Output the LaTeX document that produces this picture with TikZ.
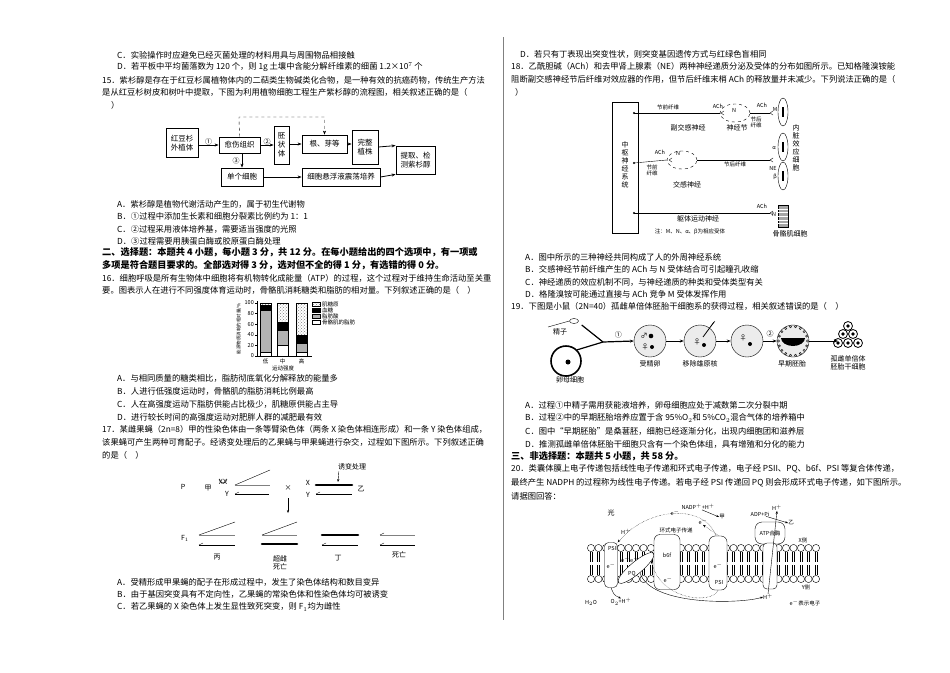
\documentclass[tikz,border=0pt]{standalone}
\usepackage{fontspec}
\setmainfont{Noto Sans CJK SC}
\usetikzlibrary{patterns,arrows.meta,shapes.geometric}
\newcommand{\Tl}[4]{\node[tx] (#1) at (#2,#3) {#4};}
\begin{document}
\begin{tikzpicture}[x=1pt,y=-1pt,
 tx/.style={anchor=west,inner sep=0,font=\fontsize{8.3}{10}\selectfont},
 sm/.style={inner sep=0,font=\fontsize{7}{8}\selectfont},
 tiny/.style={inner sep=0,font=\fontsize{5.5}{6}\selectfont},
 bx/.style={draw,thick,inner sep=2pt,font=\fontsize{7.5}{9}\selectfont,align=center},
 ar/.style={-{Stealth[length=4pt]},thick},
 hd/.style={anchor=west,inner sep=0,font=\fontsize{9.2}{11}\bfseries\selectfont},
 thk/.style={line width=2.6pt,line cap=round}]
\useasboundingbox (0,0) rectangle (950,672);
\fill[white] (0,0) rectangle (950,672);
\coordinate (d1) at (503,37); \coordinate (d2) at (503,620);
\draw[gray] (d1) -- (d2);
% ---------- left column
\Tl{a1}{117}{55}{C．实验操作时应避免已经灭菌处理的材料用具与周围物品相接触}
\Tl{a2}{117}{67}{D．若平板中平均菌落数为 120 个，则 1g 土壤中含能分解纤维素的细菌 1.2×10$^7$ 个}
\Tl{a3}{102}{80}{15．紫杉醇是存在于红豆杉属植物体内的二萜类生物碱类化合物，是一种有效的抗癌药物，传统生产方法}
\Tl{a4}{102}{92}{是从红豆杉树皮和树叶中提取，下图为利用植物细胞工程生产紫杉醇的流程图，相关叙述正确的是（}
\Tl{a5}{111}{105}{）}
% flowchart
\node[bx,minimum width=32pt,minimum height=29pt] (f1) at (182,143) {红豆杉\\外植体};
\node[bx,minimum width=41pt,minimum height=16pt] (f2) at (239.5,145) {愈伤组织};
\node[bx,minimum width=15pt,minimum height=38pt] (f3) at (281.5,145) {胚\\状\\体};
\node[bx,minimum width=45pt,minimum height=18pt] (f4) at (324.5,144) {根、芽等};
\node[bx,minimum width=26pt,minimum height=34pt] (f5) at (365,147) {完整\\植株};
\node[bx,minimum width=39pt,minimum height=28pt] (f6) at (415.5,160) {提取、检\\测紫杉醇};
\node[bx,minimum width=42pt,minimum height=18pt] (f7) at (242,177) {单个细胞};
\node[bx,minimum width=78pt,minimum height=18pt] (f8) at (341,177) {细胞悬浮液震荡培养};
\draw[ar] (f1.east|-f2) -- (f2.west) node[midway,above,sm] {①};
\draw[ar] (f2.east) -- (f3.west|-f2) node[midway,above,sm] {②};
\draw[ar] (f3.east|-f4) -- (f4.west);
\draw[ar] (f4.east) -- (f5.west|-f4);
\draw[ar] (f5.east) -- (f6.north west);
\draw[ar] (f8.east) -- (f6.south west);
\draw[ar] (f7.east) -- (f8.west);
\draw[ar] (f2.south-|f7) -- (f7.north) node[midway,left,sm,xshift=-2pt] {③};
\draw[ar,dashed,thin] (f2.north) -- (239,117) -| (f4.north);
\Tl{a6}{117}{204}{A．紫杉醇是植物代谢活动产生的，属于初生代谢物}
\Tl{a7}{117}{216}{B．①过程中添加生长素和细胞分裂素比例约为 1：1}
\Tl{a8}{117}{229}{C．②过程采用液体培养基，需要适当强度的光照}
\Tl{a9}{117}{241}{D．③过程需要用胰蛋白酶或胶原蛋白酶处理}
\node[hd] (h2) at (102,252) {二、选择题：本题共 4 小题，每小题 3 分，共 12 分。在每小题给出的四个选项中，有一项或};
\node[hd] (h2b) at (102,265) {多项是符合题目要求的。全部选对得 3 分，选对但不全的得 1 分，有选错的得 0 分。};
\Tl{b1}{102}{278}{16．细胞呼吸是所有生物体中细胞将有机物转化成能量（ATP）的过程，这个过程对于维持生命活动至关重}
\Tl{b2}{102}{290}{要。图表示人在进行不同强度体育运动时，骨骼肌消耗糖类和脂肪的相对量。下列叙述正确的是（\quad ）}
% bar chart
\draw (257,301) -- (257,356) -- (312,356);
\foreach \v in {0,20,...,100}{\draw (255,356-\v*0.53) -- (257,356-\v*0.53); \node[tiny,anchor=east] (yt\v) at (254,356-\v*0.53) {\v};}
\foreach \n/\xa/\w/\g/\b in {lo/260/8/86/96, mi/277/20/48/63, hi/296/8/25/40}{
 \draw (\xa,356) rectangle ++(11,-\w*0.53);
 \draw[fill=gray!60] (\xa,356-\w*0.53) rectangle (\xa+11,356-\g*0.53);
 \draw[fill=black] (\xa,356-\g*0.53) rectangle (\xa+11,356-\b*0.53);
 \draw[pattern=crosshatch dots,pattern color=gray] (\xa,356-\b*0.53) rectangle (\xa+11,303);}
\node[tiny] (xl1) at (265.5,361) {低};
\node[tiny] (xl2) at (282.5,361) {中};
\node[tiny] (xl3) at (301.5,361) {高};
\node[tiny] (xlab) at (283,368) {运动强度};
\node[inner sep=0,font=\fontsize{4.5}{5}\selectfont,rotate=90] (ylab) at (239,329) {能源物质消耗的相对量/\%};
\draw[pattern=crosshatch dots,pattern color=gray] (312,302) rectangle (320,306);
\draw[fill=black] (312,308) rectangle (320,312);
\draw[fill=gray!60] (312,314) rectangle (320,318);
\draw (312,320) rectangle (320,324);
\node[tiny,anchor=west] (lg1) at (322,304) {肌糖原};
\node[tiny,anchor=west] (lg2) at (322,310) {血糖};
\node[tiny,anchor=west] (lg3) at (322,316) {脂肪酸};
\node[tiny,anchor=west] (lg4) at (322,322) {骨骼肌的脂肪};
\Tl{b3}{117}{378}{A．与相同质量的糖类相比，脂肪彻底氧化分解释放的能量多}
\Tl{b4}{117}{391}{B．人进行低强度运动时，骨骼肌的脂肪消耗比例最高}
\Tl{b5}{117}{404}{C．人在高强度运动下脂肪供能占比极少，肌糖原供能占主导}
\Tl{b6}{117}{417}{D．进行较长时间的高强度运动对肥胖人群的减肥最有效}
\Tl{b7}{102}{429}{17．某雌果蝇（2n=8）甲的性染色体由一条等臂染色体（两条 X 染色体相连形成）和一条 Y 染色体组成，}
\Tl{b8}{102}{442}{该果蝇可产生两种可育配子。经诱变处理后的乙果蝇与甲果蝇进行杂交，过程如下图所示。下列叙述正确}
\Tl{b9}{102}{455}{的是（\quad ）}
% fly cross
\node[sm] (P) at (183,487) {P};
\node[sm] (jia) at (208,488) {甲};
\node[sm] (XX) at (223,482) {XX};
\draw (219,479) arc (180:0:4);
\node[sm] (Y1) at (227,494) {Y};
\draw (235,485) -- (270,470); \draw[gray] (235,485) -- (270,485);
\draw (235,494) -- (269,494); \draw (235,494) -- (239,492);
\node[sm] (cross) at (288,488) {×};
\coordinate (ca) at (288,498); \coordinate (cb) at (288,513);
\draw[-{Stealth[length=3pt]}] (ca) -- (cb);
\node[sm] (X2) at (308,483) {X};
\node[sm] (Y2) at (308,495) {Y};
\draw[thk] (316,485) -- (352,485);
\draw (316,494) -- (352,494); \draw (316,494) -- (320,492);
\node[sm] (yi) at (361,489) {乙};
\node[sm] (mut) at (352,467) {诱变处理};
\draw[-{Stealth[length=3pt]}] (mut.south west) ++(1,1) -- (338,482);
\node[sm] (F1) at (185,538) {F$_1$};
% offspring
\draw (199,535) -- (235,522); \draw[gray] (199,535) -- (235,535);
\draw (199,545) -- (235,545); \draw (199,545) -- (203,543);
\node[sm] (bing) at (217,557) {丙};
\draw (262,535) -- (297,522); \draw[gray] (262,535) -- (297,535);
\draw[thk] (262,544) -- (297,544);
\node[sm,align=center] (cc) at (280,563) {超雌\\死亡};
\draw[thk] (322,535) -- (358,535);
\draw (322,545) -- (358,545); \draw (322,545) -- (326,543);
\node[sm] (ding) at (338,558) {丁};
\draw[gray] (380,535) -- (415,535); \draw (380,535) -- (384,533);
\draw (380,545) -- (415,545); \draw (380,545) -- (384,543);
\node[sm] (sw) at (399,555) {死亡};
\Tl{c1}{117}{582}{A．受精形成甲果蝇的配子在形成过程中，发生了染色体结构和数目变异}
\Tl{c2}{117}{594}{B．由于基因突变具有不定向性，乙果蝇的常染色体和性染色体均可被诱变}
\Tl{c3}{117}{607}{C．若乙果蝇的 X 染色体上发生显性致死突变，则 F$_1$均为雌性}
% ---------- right column
\Tl{r1}{520}{54}{D．若只有丁表现出突变性状，则突变基因遗传方式与红绿色盲相同}
\Tl{r2}{511}{66}{18．乙酰胆碱（ACh）和去甲肾上腺素（NE）两种神经递质分泌及受体的分布如图所示。已知格隆溴铵能}
\Tl{r3}{511}{79}{阻断副交感神经节后纤维对效应器的作用，但节后纤维末梢 ACh 的释放量并未减少。下列说法正确的是（}
\Tl{r4}{515}{92}{）}
% nerve diagram
\node[draw,thick,minimum width=26pt,minimum height=131pt,inner sep=0] (cns) at (625,167.5) {};
\node[sm,align=center] (cnst) at (625,165) {中\\枢\\神\\经\\系\\统};
\node[draw,dashed,ellipse,minimum width=30pt,minimum height=18pt] (g1) at (735,113) {};
\node[tiny] (N1) at (734,110) {N};
\node[draw,dashed,ellipse,minimum width=30pt,minimum height=18pt] (g2) at (682,160) {};
\node[tiny] (N2) at (678,153) {N};
\node[draw,ellipse,minimum width=10pt,minimum height=28pt] (c1) at (783,112) {};
\node[draw,ellipse,minimum width=10pt,minimum height=28pt] (c2) at (783,147) {};
\node[draw,ellipse,minimum width=10pt,minimum height=28pt] (c3) at (783,176) {};
\foreach \c in {c1,c2,c3}{\draw[line width=1.5pt] (\c.center)++(0,-5) -- ++(0,10);}
\node[draw,fill=gray!70,minimum width=10pt,minimum height=22pt,inner sep=0] (mus) at (783,216) {};
\foreach \k in {1,...,5}{\draw[white] (778,205+\k*3.7) -- (788,205+\k*3.7);}
\fill (634,113) circle (1.2); \fill (634,163) circle (1.2); \fill (634,213) circle (1.2);
\draw (634,113) -- (g1.west); \draw (g1.east) -- (770,113);
\draw (634,163) -- (g2.west); \draw (g2.east) -- (770,160);
\draw (634,213) -- (770,213);
\foreach \yy in {113,160,213}{\draw (770,\yy) -- ++(3,-2) (770,\yy) -- ++(3,2);}
\draw (721,113) -- ++(3,-2) (721,113) -- ++(3,2);
\draw (669,160) -- ++(3,-2) (669,160) -- ++(3,2);
\node[tiny] (t1) at (668,107) {节前纤维};
\node[tiny] (t2) at (718,106) {ACh};
\node[tiny] (t3) at (762,105) {ACh};
\node[tiny] (t4) at (775,109) {M};
\node[tiny,align=center] (t5) at (756,122) {节后\\纤维};
\node[sm] (t6) at (688,128) {副交感神经};
\node[sm] (t7) at (737,128) {神经节};
\node[sm,align=center] (t8) at (796,148) {内\\脏\\效\\应\\细\\胞};
\node[tiny] (t9) at (774,148) {α};
\node[tiny] (t10) at (773,168) {NE};
\node[tiny] (t11) at (775,177) {β};
\node[tiny] (t12) at (660,152) {ACh};
\node[tiny,align=center] (t13) at (652,170) {节前\\纤维};
\node[tiny] (t14) at (735,164) {节后纤维};
\node[sm] (t15) at (687,185) {交感神经};
\node[tiny] (t16) at (762,206) {ACh};
\node[tiny] (t17) at (774,214) {N};
\node[sm] (t18) at (698,219) {躯体运动神经};
\node[tiny] (t19) at (690,232) {注：M、N、α、β为相应受体};
\node[sm] (t20) at (790,234) {骨骼肌细胞};
\Tl{r5}{525}{257}{A．图中所示的三种神经共同构成了人的外周神经系统}
\Tl{r6}{525}{269}{B．交感神经节前纤维产生的 ACh 与 N 受体结合可引起瞳孔收缩}
\Tl{r7}{525}{282}{C．神经递质的效应机制不同，与神经递质的种类和受体类型有关}
\Tl{r8}{525}{294}{D．格隆溴铵可能通过直接与 ACh 竞争 M 受体发挥作用}
\Tl{r9}{511}{306}{19．下图是小鼠（2N=40）孤雌单倍体胚胎干细胞系的获得过程，相关叙述错误的是（\quad ）}
% embryo diagram
\node[draw,ellipse,minimum width=9pt,minimum height=5pt,inner sep=0] (sp) at (574,321) {};
\draw (sp.west) -- (548,327);
\node[sm] (spt) at (560,332) {精子};
\node[draw,line width=1.6pt,circle,minimum size=30pt] (egg) at (566,361) {};
\fill (568,362) circle (2.5);
\node[sm] (eggt) at (570,380) {卵母细胞};
\coordinate (jn) at (603,342);
\draw[line width=1.2pt] (sp.east) ++(3,4) -- (jn);
\draw[line width=1.2pt] (egg.north east) -- (jn);
\node[draw,fill=gray!15,circle,minimum size=32pt] (e1) at (650,341) {};
\draw[ar,line width=1.2pt] (jn) -- (e1.west) node[midway,above,sm,yshift=3pt] {①};
\node[draw,fill=gray!15,circle,minimum size=32pt] (e2) at (700,341) {};
\node[draw,fill=gray!15,circle,minimum size=32pt] (e3) at (747,341) {};
\node[draw,fill=gray!15,circle,minimum size=32pt] (e4) at (793,341) {};
\draw[ar] (e1) -- (e2); \draw[ar] (e2) -- (e3);
\draw[ar] (e3) -- (e4) node[midway,above,sm,yshift=4pt] {②};
\node[sm] (s1) at (644,336) {♂}; \fill (651,336) circle (2.3);
\node[sm] (s2) at (645,347) {♀}; \fill (652,347) circle (2);
\node[sm] (s3) at (697,342) {♀}; \fill (704,345) circle (2);
\node[sm] (s4) at (743,338) {♀}; \fill (750,344) circle (2);
\draw[thick] (703,337) -- (714,322); \draw (711,326) -- (715,321);
\fill (793,341) ++(-12,-3) arc (180:0:12 and 8) -- cycle;
\foreach \a in {0,20,...,340}{\draw (793,341)++(\a:14.5) circle (1.1);}
\draw[ar] (e4.east) -- (838,341);
\foreach \p in {(848,326),(843,334),(853,334),(838,343),(848,343),(858,343)}{\node[draw,thick,circle,minimum size=9pt,inner sep=0] at \p {}; \fill \p circle (1.8);}
\node[sm,align=center] (cl) at (848,363) {孤雌单倍体\\胚胎干细胞};
\node[sm] (l1) at (650,364) {受精卵};
\node[sm] (l2) at (700,364) {移除雄原核};
\node[sm] (l3) at (792,364) {早期胚胎};
\Tl{r10}{525}{405}{A．过程①中精子需用获能液培养，卵母细胞应处于减数第二次分裂中期}
\Tl{r11}{525}{418}{B．过程②中的早期胚胎培养应置于含 95\%O$_2$和 5\%CO$_2$混合气体的培养箱中}
\Tl{r12}{525}{431}{C．图中“早期胚胎”是桑葚胚，细胞已经逐渐分化，出现内细胞团和滋养层}
\Tl{r13}{525}{444}{D．推测孤雌单倍体胚胎干细胞只含有一个染色体组，具有增殖和分化的能力}
\node[hd] (h3) at (511,456) {三、非选择题：本题共 5 小题，共 58 分。};
\Tl{r14}{511}{469}{20．类囊体膜上电子传递包括线性电子传递和环式电子传递，电子经 PSII、PQ、b6f、PSI 等复合体传递，}
\Tl{r15}{511}{483}{最终产生 NADPH 的过程称为线性电子传递。若电子经 PSI 传递回 PQ 则会形成环式电子传递，如下图所示。}
\Tl{r16}{511}{496}{请据图回答：}
% membrane
\foreach \xx in {591,598.5,...,818}{
 \draw (\xx,548) circle (3.6); \draw (\xx,579) circle (3.6);
 \draw (\xx-1,551.6) -- (\xx-1,562) (\xx+1,551.6) -- (\xx+1,562);
 \draw (\xx-1,565) -- (\xx-1,575.4) (\xx+1,565) -- (\xx+1,575.4);}
\node[draw,fill=white,rounded corners=4pt,minimum width=13pt,minimum height=45pt,inner sep=0] (psii) at (611,565) {};
\node[tiny] (psiit) at (613,548) {PSII};
\node[draw,fill=white,ellipse,rotate=40,minimum width=46pt,minimum height=12pt,inner sep=0] (pq) at (636,568) {};
\node[tiny] (pqt) at (632,574) {PQ};
\node[draw,fill=white,rounded corners=6pt,minimum width=26pt,minimum height=55pt,inner sep=0] (b6f) at (667,562) {};
\node[tiny] (b6ft) at (667,555) {b6f};
\node[draw,fill=white,rounded corners=6pt,minimum width=18pt,minimum height=54pt,inner sep=0] (psi) at (718,563) {};
\node[tiny] (psit) at (719,582) {PSI};
\node[draw,fill=white,rounded corners=7pt,minimum width=30pt,minimum height=22pt,inner sep=0] (atp) at (770,533) {};
\node[draw,fill=white,rounded corners=4pt,minimum width=14pt,minimum height=46pt,inner sep=0] (atpb) at (770,566) {};
\node[tiny] (atpt) at (770,533) {ATP合酶};
\node[tiny] (e1t) at (611,566) {e$^-$};
\node[tiny] (e2t) at (630,560) {e$^-$e$^-$};
\node[tiny] (e3t) at (668,580) {e$^-$};
\node[tiny] (e4t) at (718,566) {e$^-$};
\node[tiny] (e5t) at (675,513) {e$^-$};
\node[tiny] (e6t) at (703,522) {e$^-$};
\node[sm] (guang) at (611,513) {光};
\node[tiny] (hp1) at (626,532) {H$^+$};
\node[tiny] (nadp) at (698,507) {NADP$^+$+H$^+$};
\node[tiny] (jia2) at (722,517) {甲};
\node[tiny] (cyc) at (676,530) {环式电子传递};
\node[tiny] (adp) at (760,514) {ADP+Pi};
\node[tiny] (hp2) at (777,508) {H$^+$};
\node[tiny] (yi2) at (791,523) {乙};
\node[tiny] (xc) at (803,540) {X侧};
\node[tiny] (yc) at (806,587) {Y侧};
\node[tiny] (hp3) at (768,597) {H$^+$};
\node[tiny] (est) at (805,603) {e$^-$表示电子};
\node[tiny] (h2o) at (591,603) {H$_2$O};
\node[tiny] (o2) at (621,602) {O$_2$+H$^+$};
\draw[-{Stealth[length=3pt]}] (nadp.south) ++(4,0) -- (jia2.west);
\draw[-{Stealth[length=3pt]}] (adp.south) ++(6,0) -- (yi2.west);
\draw[-{Stealth[length=3pt]}] (hp3.north) -- (hp2.south);
\draw[densely dotted,-{Stealth[length=3pt]}] (psi.north) ++(-2,0) .. controls (705,505) and (650,505) .. (psii.north east);
\draw[densely dotted,-{Stealth[length=3pt]}] (psi.south) .. controls (712,605) and (660,600) .. (pq.south east);
\draw[densely dotted,-{Stealth[length=3pt]}] (psi.north) ++(1,0) -- (e6t.south);
\draw[-{Stealth[length=3pt]}] (psii.south) .. controls (614,595) .. (o2.north);
\draw[-{Stealth[length=3pt]}] (pq.south) .. controls (650,606) and (740,604) .. (hp3.west);
\end{tikzpicture}
\end{document}
